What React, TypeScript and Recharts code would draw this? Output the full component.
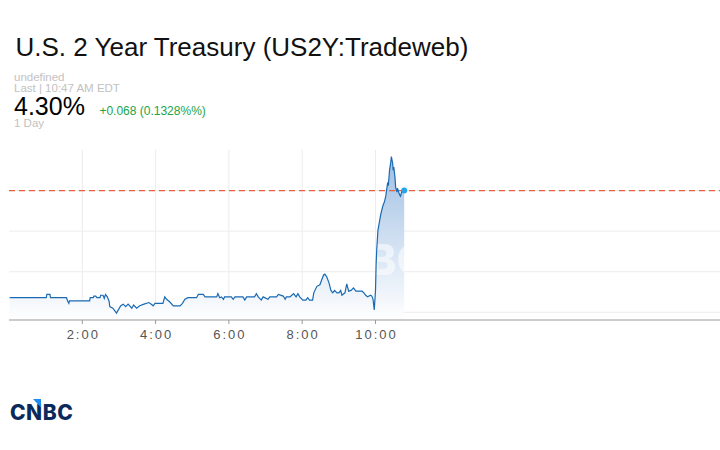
import React from "react";
import {
  ComposedChart,
  Area,
  Line,
  XAxis,
  YAxis,
  CartesianGrid,
  ReferenceLine,
  ReferenceDot,
} from "recharts";

// ---- data ----
const TITLE = "U.S. 2 Year Treasury (US2Y:Tradeweb)";
const SUB_LINE_1 = "undefined";
const SUB_LINE_2 = "Last | 10:47 AM EDT";
const LAST_PRICE = "4.30%";
const CHANGE_TEXT = "+0.068 (0.1328%%)";
const RANGE_TEXT = "1 Day";

// minutes since midnight
const TIMES_MIN = [
  1, 61, 62, 67, 68, 94, 96, 98, 99, 132,
  133, 138, 139, 142, 144, 149, 150, 154, 156, 158,
  161, 164, 165, 170, 176, 179, 183, 187, 191, 195,
  201, 204, 209, 214, 221, 229, 233, 236, 239, 252,
  255, 258, 263, 269, 280, 284, 288, 293, 307, 310,
  318, 321, 340, 342, 345, 348, 351, 353, 364, 367,
  370, 383, 386, 389, 402, 405, 408, 413, 416, 424,
  427, 438, 441, 449, 452, 454, 460, 463, 466, 470,
  473, 476, 481, 486, 489, 492, 497, 499, 504, 509,
  512, 515, 517, 520, 524, 527, 530, 533, 537, 540,
  543, 545, 550, 553, 556, 560, 564, 568, 573, 578,
  581, 584, 587, 592, 594, 596, 598, 600, 601, 602,
  604, 607, 609, 612, 615, 617, 620, 621, 623, 625,
  626, 628, 629, 630, 632, 633, 635, 636, 638, 640,
  641, 643, 645, 647,
];

const YIELDS = [
  4.168, 4.168, 4.172, 4.172, 4.168, 4.168, 4.164, 4.161, 4.164, 4.164,
  4.168, 4.168, 4.170, 4.170, 4.168, 4.168, 4.171, 4.171, 4.167, 4.172,
  4.169, 4.163, 4.157, 4.155, 4.149, 4.153, 4.158, 4.160, 4.157, 4.160,
  4.155, 4.159, 4.155, 4.158, 4.160, 4.162, 4.160, 4.158, 4.161, 4.161,
  4.169, 4.166, 4.163, 4.158, 4.158, 4.161, 4.166, 4.168, 4.168, 4.172,
  4.172, 4.169, 4.169, 4.173, 4.168, 4.169, 4.166, 4.169, 4.169, 4.166,
  4.169, 4.169, 4.165, 4.169, 4.169, 4.173, 4.169, 4.165, 4.169, 4.166,
  4.169, 4.169, 4.172, 4.170, 4.166, 4.169, 4.169, 4.171, 4.173, 4.169,
  4.173, 4.169, 4.165, 4.165, 4.168, 4.165, 4.165, 4.174, 4.182, 4.184,
  4.190, 4.196, 4.197, 4.194, 4.186, 4.177, 4.174, 4.177, 4.174, 4.174,
  4.177, 4.171, 4.174, 4.185, 4.176, 4.177, 4.180, 4.176, 4.176, 4.176,
  4.174, 4.171, 4.169, 4.171, 4.170, 4.166, 4.153, 4.177, 4.208, 4.227,
  4.251, 4.264, 4.272, 4.281, 4.287, 4.294, 4.310, 4.306, 4.325, 4.335,
  4.342, 4.334, 4.325, 4.329, 4.315, 4.304, 4.298, 4.303, 4.298, 4.294,
  4.293, 4.299, 4.302, 4.300,
];

const X_TICKS = [120, 240, 360, 480, 600];
const X_DOMAIN = [0, 1164];
const Y_TICKS = [4.15, 4.2, 4.25, 4.3];
const Y_DOMAIN = [4.1405, 4.35];
const LAST_VALUE = 4.3;

const data = TIMES_MIN.map((t, i) => ({ t, v: YIELDS[i] }));
const lastPoint = data[data.length - 1];

const SANS = '"Liberation Sans", Arial, Helvetica, sans-serif';
const LOGO_FONT = 'Inter, "Open Sans", sans-serif';

const CHART_W = 712;
const CHART_H = 220;

const XTick = (props: any) => {
  const { x, y, payload } = props;
  return (
    <text
      x={x}
      y={y}
      dx={1}
      dy={10}
      textAnchor="middle"
      fill="#555"
      fontSize={13}
      fontFamily={SANS}
      style={{ letterSpacing: "2px" }}
    >
      {`${payload.value / 60}:00`}
    </text>
  );
};

export default function App() {
  return (
    <div
      style={{
        position: "absolute",
        left: 0,
        top: 0,
        width: 720,
        height: 450,
        overflow: "hidden",
        fontFamily: SANS,
      }}
    >
      <svg width={720} height={450} style={{ position: "absolute", left: 0, top: 0 }}>
        <text x={15.5} y={55.7} fontSize={26} fill="#111" fontFamily={SANS}>
          {TITLE}
        </text>
        <text x={14} y={80.5} fontSize={11.5} fill="#c2c2c2" fontFamily={SANS}>
          {SUB_LINE_1}
        </text>
        <text x={14} y={92.3} fontSize={11.5} fill="#c2c2c2" fontFamily={SANS}>
          {SUB_LINE_2}
        </text>
        <text x={14} y={115} fontSize={25} fill="#000" fontFamily={SANS}>
          {LAST_PRICE}
        </text>
        <text x={99.4} y={115} fontSize={12} fill="#22a447" fontFamily={SANS}>
          {CHANGE_TEXT}
        </text>
        <text x={14} y={127} fontSize={11.5} fill="#c2c2c2" fontFamily={SANS}>
          {RANGE_TEXT}
        </text>
        {/* CNBC logo */}
        <text
          x={10}
          y={420}
          fontSize={21}
          fontWeight={800}
          fill="#0b2a5c"
          fontFamily={LOGO_FONT}
          style={{ letterSpacing: "0.5px" }}
        >
          CNBC
        </text>
        <polygon points="33,399 41,399 41,407.5" fill="#1e8cf0" />
      </svg>

      <div style={{ position: "absolute", left: 8, top: 138, width: CHART_W, height: CHART_H }}>
        <ComposedChart
          width={CHART_W}
          height={CHART_H}
          data={data}
          margin={{ top: 12, right: 0, left: 1, bottom: 0 }}
        >
          <defs>
            <linearGradient
              id="areaGrad"
              gradientUnits="userSpaceOnUse"
              x1="0"
              y1="19"
              x2="0"
              y2="182"
            >
              <stop offset="0%" stopColor="#9fbfe3" />
              <stop offset="100%" stopColor="#ffffff" />
            </linearGradient>
            <pattern
              id="areaPattern"
              patternUnits="userSpaceOnUse"
              x="0"
              y="0"
              width={CHART_W}
              height={CHART_H}
            >
              <rect x="0" y="0" width={CHART_W} height={CHART_H} fill="url(#areaGrad)" />
              <text
                x={358.5}
                y={137}
                textAnchor="middle"
                fontSize={42}
                fontWeight={800}
                fill="#ffffff"
                fillOpacity={0.55}
                fontFamily={LOGO_FONT}
              >
                CNBC
              </text>
            </pattern>
          </defs>
          <CartesianGrid stroke="#ececec" strokeWidth={1} syncWithTicks />
          <XAxis
            dataKey="t"
            type="number"
            domain={X_DOMAIN}
            ticks={X_TICKS}
            allowDataOverflow
            height={38}
            axisLine={{ stroke: "#999", strokeWidth: 1.2 }}
            tickLine={{ stroke: "#999" }}
            tickSize={4}
            tickMargin={5}
            tick={<XTick />}
          />
          <YAxis hide type="number" domain={Y_DOMAIN} ticks={Y_TICKS} allowDataOverflow />
          <Area
            type="linear"
            dataKey="v"
            stroke="none"
            fill="url(#areaPattern)"
            fillOpacity={1}
            isAnimationActive={false}
            dot={false}
            activeDot={false}
          />
          <ReferenceLine
            y={LAST_VALUE}
            stroke="#e4603e"
            strokeWidth={1.2}
            strokeDasharray="6 4"
          />
          <Line
            type="linear"
            dataKey="v"
            stroke="#1a6ab3"
            strokeWidth={1.2}
            dot={false}
            activeDot={false}
            isAnimationActive={false}
          />
          <ReferenceDot
            x={lastPoint.t}
            y={lastPoint.v}
            r={3}
            fill="#25a5e8"
            stroke="none"
          />
        </ComposedChart>
      </div>
    </div>
  );
}
